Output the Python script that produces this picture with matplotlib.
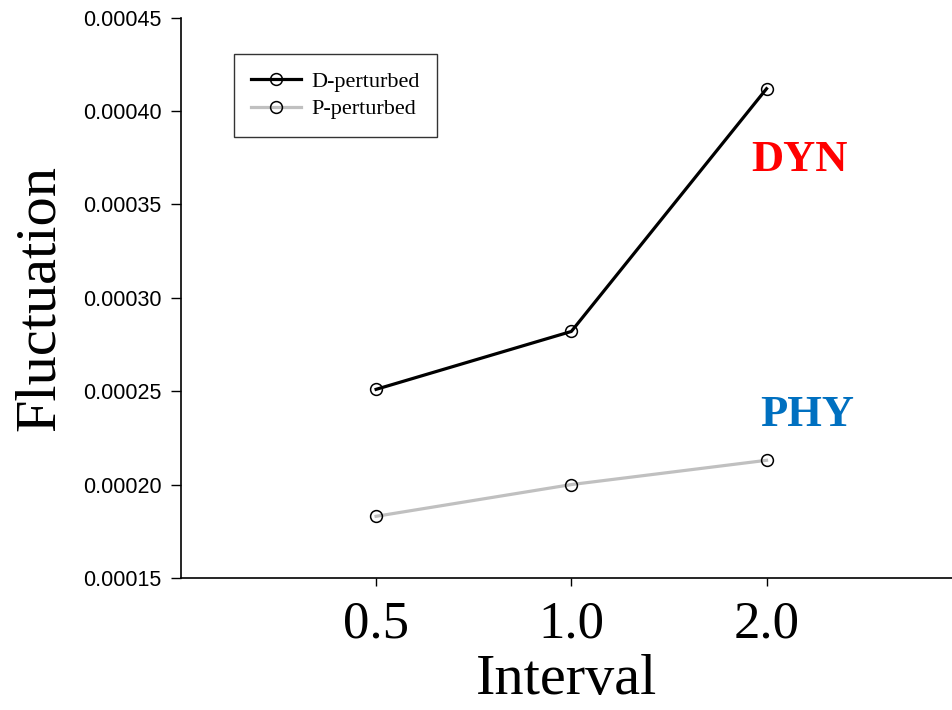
import matplotlib
matplotlib.use('Agg')
import matplotlib.pyplot as plt
from matplotlib.ticker import MultipleLocator, FormatStrFormatter

intervals = ['0.5', '1.0', '2.0']
d_perturbed = [0.000251, 0.000282, 0.000412]
p_perturbed = [0.000183, 0.000200, 0.000213]

serif = ['Liberation Serif', 'DejaVu Serif']
sans = ['Liberation Sans', 'DejaVu Sans']

fig = plt.figure(figsize=(9.52, 7.1), dpi=100)
ax = fig.add_axes([0.190, 0.186, 0.810, 0.789])

pos = [1, 2, 3]
ax.plot(pos, d_perturbed, color='black', lw=2.3, marker='o', ms=8.5,
        mfc='none', mec='black', mew=1.1, label='D-perturbed')
ax.plot(pos, p_perturbed, color='#c0c0c0', lw=2.3, marker='o', ms=8.5,
        mfc='none', mec='black', mew=1.1, label='P-perturbed')

ax.set_xlim(0, 3.95)
ax.set_ylim(0.00015, 0.00045)
ax.yaxis.set_major_locator(MultipleLocator(0.00005))
ax.yaxis.set_major_formatter(FormatStrFormatter('%.5f'))
ax.set_xticks(pos)
ax.set_xticklabels(intervals, fontsize=38, family=serif)
for t in ax.get_yticklabels():
    t.set_fontfamily(sans)
    t.set_fontsize(15.5)
ax.tick_params(axis='y', direction='out', length=7, width=1, pad=7)
ax.tick_params(axis='x', direction='out', length=6, width=1, pad=10)

for s in ['top', 'right']:
    ax.spines[s].set_visible(False)
for s in ['left', 'bottom']:
    ax.spines[s].set_linewidth(1.2)

ax.set_xlabel('Interval', fontsize=42, family=serif, labelpad=4)
ax.set_ylabel('Fluctuation', fontsize=42, family=serif, labelpad=12)

ax.text(2.92, 0.000374, 'DYN', color='red', fontsize=32, fontweight='bold',
        family=serif, ha='left', va='center')
ax.text(2.97, 0.0002375, 'PHY', color='#0070C0', fontsize=32, fontweight='bold',
        family=serif, ha='left', va='center')

leg = ax.legend(loc='upper left', bbox_to_anchor=(0.0687, 0.9357), borderaxespad=0,
                prop={'family': serif, 'size': 16}, frameon=True, fancybox=False,
                edgecolor='black', handlelength=2.25, borderpad=0.78,
                labelspacing=0.32, handletextpad=0.45)
leg.get_frame().set_linewidth(1.0)

fig.savefig('out.png', dpi=100)
